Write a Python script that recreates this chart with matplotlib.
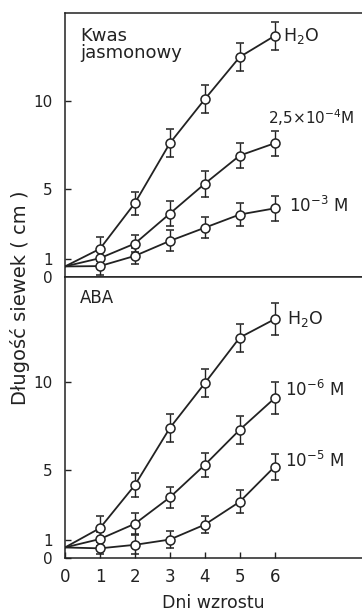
import matplotlib
matplotlib.use("Agg")
import matplotlib.pyplot as plt
import numpy as np

days = [0, 1, 2, 3, 4, 5, 6]

# Top panel: jasmonic acid
ja_h2o = [0.6, 1.6, 4.2, 7.6, 10.1, 12.5, 13.7]
ja_h2o_err = [0, 0.7, 0.65, 0.8, 0.8, 0.8, 0.8]
ja_25e4 = [0.6, 1.07, 1.9, 3.6, 5.3, 6.9, 7.6]
ja_25e4_err = [0, 0.45, 0.5, 0.7, 0.75, 0.7, 0.7]
ja_1e3 = [0.6, 0.62, 1.2, 2.05, 2.8, 3.55, 3.9]
ja_1e3_err = [0, 0.5, 0.45, 0.6, 0.6, 0.65, 0.7]

# Bottom panel: ABA
aba_h2o = [0.6, 1.7, 4.15, 7.4, 9.95, 12.55, 13.6]
aba_h2o_err = [0, 0.7, 0.7, 0.8, 0.8, 0.8, 0.9]
aba_1e6 = [0.6, 1.08, 1.95, 3.45, 5.3, 7.3, 9.1]
aba_1e6_err = [0, 0.4, 0.6, 0.6, 0.7, 0.8, 0.9]
aba_1e5 = [0.6, 0.55, 0.75, 1.05, 1.9, 3.2, 5.2]
aba_1e5_err = [0, 0.35, 0.55, 0.5, 0.5, 0.65, 0.75]

ytick_vals = [0, 1, 5, 10]
xtick_vals = [0, 1, 2, 3, 4, 5, 6]

plt.rcParams['font.family'] = ['DejaVu Sans']

fig = plt.figure(figsize=(3.62, 6.15), dpi=100)
L = 65 / 362
ax1 = fig.add_axes([L, 1 - 277 / 615, 1.0 - L, (277 - 13) / 615])
ax2 = fig.add_axes([L, 1 - 558 / 615, 1.0 - L, (558 - 277) / 615])
c = '#222222'

def draw(ax, series, ymax):
    for y, e in series:
        ax.plot(days, y, color=c, lw=1.3, zorder=2)
        ax.errorbar(days[1:], y[1:], yerr=e[1:], fmt='o', ms=6.5, mfc='white',
                    mec=c, mew=1.1, ecolor=c, elinewidth=1.0,
                    capsize=3, capthick=1.0, zorder=3)
    ax.set_xlim(0, 8.5)
    ax.set_ylim(0, ymax)
    ax.set_yticks(ytick_vals)
    ax.set_xticks(xtick_vals)
    ax.tick_params(direction='in', length=4, width=1.0, colors=c)
    ax.tick_params(axis='y', labelsize=11, pad=9)
    ax.tick_params(axis='x', labelsize=12, pad=7)
    ax.spines['right'].set_visible(False)
    for s in ['left', 'top', 'bottom']:
        ax.spines[s].set_linewidth(1.1)
        ax.spines[s].set_color(c)

draw(ax1, [(ja_h2o, ja_h2o_err), (ja_25e4, ja_25e4_err), (ja_1e3, ja_1e3_err)], 15.0)
draw(ax2, [(aba_h2o, aba_h2o_err), (aba_1e6, aba_1e6_err), (aba_1e5, aba_1e5_err)], 16.0)
ax1.tick_params(axis='x', labelbottom=False, length=0)

ax1.text(0.43, 14.2, 'Kwas\njasmonowy', fontsize=13, va='top', ha='left', color=c, linespacing=0.95)
ax2.text(0.43, 15.3, 'ABA', fontsize=12, va='top', ha='left', color=c)

ax1.text(6.25, ja_h2o[-1], r'H$_2$O', fontsize=12.5, va='center', color=c)
ax1.text(5.8, 9.05, r'2,5$\times$10$^{-4}$M', fontsize=11, va='center', color=c)
ax1.text(6.4, ja_1e3[-1] + 0.15, r'10$^{-3}$ M', fontsize=12, va='center', color=c)

ax2.text(6.35, aba_h2o[-1], r'H$_2$O', fontsize=12.5, va='center', color=c)
ax2.text(6.3, 9.55, r'10$^{-6}$ M', fontsize=12, va='center', color=c)
ax2.text(6.3, 5.5, r'10$^{-5}$ M', fontsize=12, va='center', color=c)

ax2.set_xlabel('Dni wzrostu', fontsize=12.5, color=c, labelpad=6)
fig.text(20 / 362, 1 - 298 / 615, 'Długość siewek ( cm )', rotation=90, fontsize=14,
         va='center', ha='center', color=c)

fig.savefig('out.png', dpi=100)
